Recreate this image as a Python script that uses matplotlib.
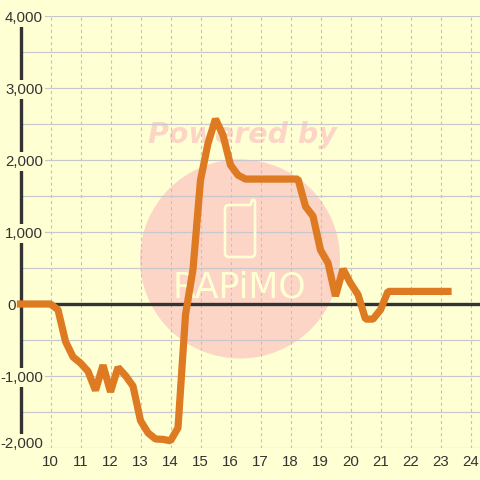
import matplotlib
matplotlib.use('Agg')
from matplotlib import pyplot as plt
from matplotlib.patches import Ellipse, PathPatch
from matplotlib.path import Path

# hours every 15 min, starting at 9:00
hours = [9 + 0.25 * i for i in range(58)]
values = [0, 0, 0, 0, 0, -80, -520, -735, -820, -935,
          -1200, -850, -1220, -880, -995, -1140, -1620, -1790, -1875, -1880,
          -1900, -1720, -150, 480, 1720, 2230, 2570, 2345, 1930, 1790,
          1735, 1735, 1735, 1735, 1735, 1735, 1735, 1735, 1355, 1220,
          750, 570, 110, 485, 290, 130, -210, -210, -80, 175,
          175, 175, 175, 175, 175, 175, 175, 175]

x_ticks = list(range(10, 25))
y_grid = [-2000, -1500, -1000, -500, 0, 500, 1000, 1500, 2000, 2500, 3000, 3500, 4000]
y_ticks = [-2000, -1000, 0, 1000, 2000, 3000, 4000]
y_labels = ['-2,000', '-1,000', '0', '1,000', '2,000', '3,000', '4,000']

bg = '#FFFFD4'
dark = '#333333'
wm = '#FCD5C6'
cream = '#FFFFD4'

fig = plt.figure(figsize=(4.8, 4.8), dpi=100, facecolor=bg)
ax = fig.add_axes([20.5 / 480, 32 / 480, 459.5 / 480, 432 / 480], facecolor=bg)
ax.set_xlim(9, 9 + 459.5 / 30)
ax.set_ylim(-2000, 4000)

# grid
ax.set_xticks(x_ticks)
ax.set_yticks(y_grid)
ax.grid(True, axis='y', color='#C8C8CC', lw=0.9, zorder=1)
ax.grid(True, axis='x', color='#C0C0C6', lw=0.8, ls=(0, (2.7, 2.8)), zorder=1)
ax.set_axisbelow(True)

for s in ['top', 'right', 'bottom']:
    ax.spines[s].set_visible(False)
ax.spines['left'].set_color(dark)
ax.spines['left'].set_linewidth(2.4)
ax.spines['left'].set_zorder(3)
ax.axhline(0, color=dark, lw=2.4, zorder=3)

ax.tick_params(axis='x', length=0, pad=5, labelsize=10.8, labelcolor=dark)
ax.tick_params(axis='y', length=0, labelleft=False)
for t in ax.get_xticklabels():
    t.set_family('Liberation Sans')

# watermark, pixel coordinates of the figure
def px(x, y):
    return x / 480, 1 - y / 480

tr = fig.transFigure
cx, cy = px(240, 259)
ax.add_patch(Ellipse((cx, cy), 200 / 480, 199 / 480, transform=tr, fc=wm, ec='none', zorder=0.5))
ax.text(*px(242, 135), 'Powered by', transform=tr, family='DejaVu Sans', weight='bold', style='italic',
        fontsize=20.5, color=wm, ha='center', va='center', zorder=0.5)
ax.text(*px(240, 288), 'RAPiMO', transform=tr, family='DejaVu Sans', fontsize=25,
        color=cream, ha='center', va='center', zorder=0.6)
logo_verts = [(229, 205), (250, 205), (251, 205), (251, 203), (252, 200), (254, 200), (255, 200), (255, 203),
              (255, 253), (255, 257), (251, 257), (229, 257), (225, 257), (225, 253),
              (225, 209), (225, 205), (229, 205)]
logo_codes = [Path.MOVETO, Path.LINETO, Path.CURVE3, Path.CURVE3, Path.LINETO, Path.LINETO, Path.CURVE3, Path.CURVE3,
              Path.LINETO, Path.CURVE3, Path.CURVE3, Path.LINETO, Path.CURVE3, Path.CURVE3,
              Path.LINETO, Path.CURVE3, Path.CURVE3]
ax.add_patch(PathPatch(Path([px(*v) for v in logo_verts], logo_codes), transform=tr,
                       fc='none', ec=cream, lw=1.9, zorder=0.6))

# y labels sit on a box that hides the axis
for v, lab in zip(y_ticks, y_labels):
    dx = -4.5 if v == 0 else 22.5
    dy = 6 if v == -2000 else 0
    ax.annotate(lab, xy=(0, v), xycoords=('axes fraction', 'data'), xytext=(dx, dy),
                textcoords='offset pixels', ha='right', va='center_baseline',
                family='Liberation Sans', fontsize=10.8, color=dark, annotation_clip=False,
                bbox=dict(fc=bg, ec='none', pad=1.5), zorder=4)

ax.plot(hours, values, color='#DE7A22', lw=5.2, solid_capstyle='projecting',
        solid_joinstyle='bevel', clip_on=False, zorder=5)

fig.savefig('out.png', dpi=100, facecolor=bg)
